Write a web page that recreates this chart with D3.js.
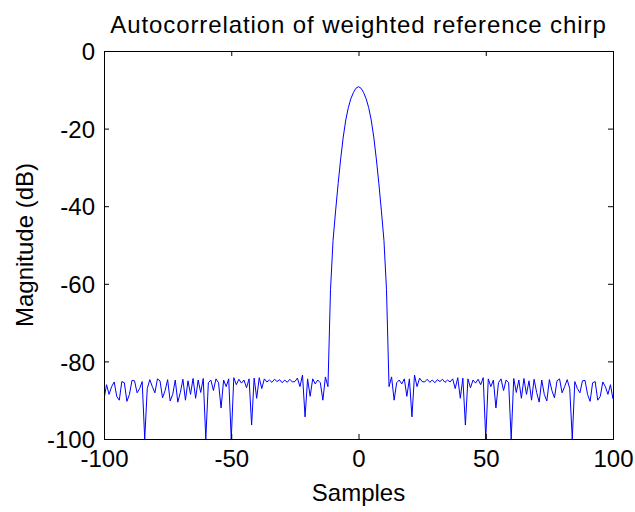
<!DOCTYPE html>
<html><head><meta charset="utf-8">
<script src="https://cdn.jsdelivr.net/npm/d3@7"></script>
<style>body{margin:0;background:#fff}svg{display:block}text{font-family:"Liberation Sans",Arial,sans-serif;fill:#000}</style>
</head><body><svg id="c" width="635" height="512"></svg>
<script>
const title = "Autocorrelation of weighted reference chirp";
const xLabel = "Samples";
const yLabel = "Magnitude (dB)";
const xTicks = [-100, -50, 0, 50, 100];
const yTicks = [0, -20, -40, -60, -80, -100];
const lags = d3.range(-100, 101);
const magnitude = [
-89.7,-86.0,-88.5,-86.5,-85.3,-89.0,-90.0,-85.2,-85.5,-90.3,-88.5,-84.9,-85.0,-88.1,-87.0,-85.2,-100,-87.0,-84.7,-86.5,
-88.1,-84.5,-85.0,-89.4,-87.5,-84.7,-90.2,-88.5,-84.8,-90.5,-88.0,-84.6,-90.0,-85.0,-88.5,-84.4,-89.5,-84.8,-88.0,-84.4,
-100,-85.5,-84.8,-87.5,-84.5,-85.5,-92.0,-84.8,-86.5,-84.5,-100,-84.2,-86.0,-84.6,-85.6,-84.8,-86.8,-84.5,-96.4,-84.3,
-89.5,-84.2,-87.0,-84.5,-85.3,-84.8,-85.4,-84.6,-85.2,-84.7,-85.5,-84.8,-85.4,-84.6,-85.3,-85.2,-84.3,-86.5,-83.5,-94.3,
-84.5,-89.0,-84.5,-85.8,-84.8,-85.5,-90.0,-84.0,-86.5,-61.5,-48.8,-41.2,-34.2,-27.8,-22.2,-17.8,-14.6,-12.3,-10.7,-9.6,
-9.2,
-9.6,-10.7,-12.3,-14.6,-17.8,-22.2,-27.8,-34.2,-41.2,-48.8,-61.5,-86.5,-84.0,-90.0,-85.5,-84.8,-85.8,-84.5,-89.0,-84.5,
-94.3,-83.5,-86.5,-84.3,-85.2,-85.3,-84.6,-85.4,-84.8,-85.5,-84.7,-85.2,-84.6,-85.4,-84.8,-85.3,-84.5,-87.0,-84.2,-89.5,
-84.3,-96.4,-84.5,-86.8,-84.8,-85.6,-84.6,-86.0,-84.2,-100,-84.5,-86.5,-84.8,-92.0,-85.5,-84.5,-87.5,-84.8,-85.5,-100,
-84.4,-88.0,-84.8,-89.5,-84.4,-88.5,-85.0,-90.0,-84.6,-88.0,-90.5,-84.8,-88.5,-90.2,-84.7,-87.5,-89.4,-85.0,-84.5,-88.1,
-86.5,-84.7,-87.0,-100,-85.2,-87.0,-88.1,-85.0,-84.9,-88.5,-90.3,-85.5,-85.2,-90.0,-89.0,-85.3,-86.5,-88.5,-86.0,-89.7
];

const svg = d3.select("#c");
const m = {left:104, right:613, top:51, bottom:439};
const x = d3.scaleLinear().domain([-100,100]).range([m.left, m.right]);
const y = d3.scaleLinear().domain([-100,0]).range([m.bottom, m.top]);

svg.append("rect").attr("width",635).attr("height",512).attr("fill","#fff");

svg.append("clipPath").attr("id","clip").append("rect")
  .attr("x",m.left).attr("y",m.top).attr("width",m.right-m.left).attr("height",m.bottom-m.top+1);

const line = d3.line().x((d,i)=>x(lags[i])).y(d=>y(d));
svg.append("path").datum(magnitude).attr("d",line).attr("fill","none")
  .attr("stroke","#0000ff").attr("stroke-width",1).attr("clip-path","url(#clip)");

const tickLen = 5;
const fs = 24;
const fmt = d => String(d);
const xb = svg.append("g").attr("transform",`translate(0,${m.bottom})`)
  .call(d3.axisBottom(x).tickValues(xTicks).tickSize(-tickLen).tickPadding(11).tickFormat(fmt));
const xt = svg.append("g").attr("transform",`translate(0,${m.top})`)
  .call(d3.axisTop(x).tickValues(xTicks).tickSize(-tickLen).tickFormat(""));
const yl = svg.append("g").attr("transform",`translate(${m.left},0)`)
  .call(d3.axisLeft(y).tickValues(yTicks).tickSize(-tickLen).tickPadding(9).tickFormat(fmt));
const yr = svg.append("g").attr("transform",`translate(${m.right},0)`)
  .call(d3.axisRight(y).tickValues(yTicks).tickSize(-tickLen).tickFormat(""));
[xb,xt,yl,yr].forEach(g=>{
  g.select(".domain").attr("stroke","#000").attr("stroke-width",1);
  g.selectAll(".tick line").attr("stroke","#000");
  g.selectAll("text").style("font-size",fs+"px").attr("fill","#000");
});
xb.selectAll("text").attr("dy","0.71em");
yl.selectAll("text").attr("dy","0.36em");

svg.append("text").attr("x",(m.left+m.right)/2).attr("y",33).attr("text-anchor","middle")
  .style("font-size","24px").style("letter-spacing","0.9px").text(title);
svg.append("text").attr("x",(m.left+m.right)/2).attr("y",501).attr("text-anchor","middle")
  .style("font-size","24px").text(xLabel);
svg.append("text").attr("transform",`translate(33,${(m.top+m.bottom)/2}) rotate(-90)`).attr("text-anchor","middle")
  .style("font-size","24px").text(yLabel);
</script></body></html>
